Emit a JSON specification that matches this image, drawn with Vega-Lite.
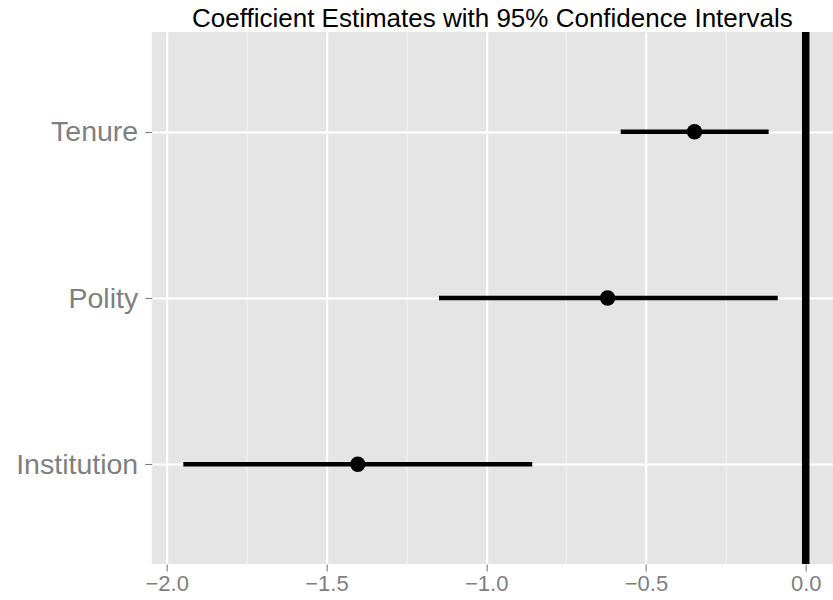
{
  "$schema": "https://vega.github.io/schema/vega-lite/v6.json",
  "autosize": "none",
  "width": 681.3,
  "height": 532,
  "padding": {"left": 151.7, "top": 32, "right": 0, "bottom": 36},
  "background": "white",
  "title": {
    "text": "Coefficient Estimates with 95% Confidence Intervals",
    "font": "Liberation Sans",
    "fontSize": 26,
    "fontWeight": "normal",
    "color": "black",
    "anchor": "middle",
    "offset": -4
  },
  "config": {
    "view": {"fill": "#E5E5E5", "stroke": null},
    "font": "Liberation Sans"
  },
  "datasets": {
    "coef": [
      {"term": "Tenure", "estimate": -0.348, "lower": -0.579, "upper": -0.116},
      {"term": "Polity", "estimate": -0.62, "lower": -1.148, "upper": -0.0875},
      {"term": "Institution", "estimate": -1.402, "lower": -1.948, "upper": -0.856}
    ],
    "zero": [{"x": 0}]
  },
  "resolve": {"axis": {"x": "independent"}},
  "layer": [
    {
      "data": {"name": "zero"},
      "mark": {"type": "rule", "color": "black", "strokeWidth": 7.5},
      "encoding": {
        "x": {
          "field": "x",
          "type": "quantitative",
          "scale": {"domain": [-2.047, 0.0854], "nice": false, "zero": false},
          "axis": {
            "orient": "bottom",
            "values": [-1.75, -1.25, -0.75, -0.25],
            "grid": true,
            "gridColor": "#F2F2F2",
            "gridWidth": 1.1,
            "labels": false,
            "ticks": false,
            "domain": false,
            "title": null
          }
        }
      }
    },
    {
      "data": {"name": "coef"},
      "mark": {"type": "rule", "color": "black", "strokeWidth": 4.3},
      "encoding": {
        "x": {
          "field": "lower",
          "type": "quantitative",
          "axis": {
            "orient": "bottom",
            "values": [-2, -1.5, -1, -0.5, 0],
            "format": ".1f",
            "grid": true,
            "gridColor": "white",
            "gridWidth": 2,
            "domain": false,
            "ticks": true,
            "tickColor": "#7F7F7F",
            "tickSize": 7,
            "tickWidth": 1.1,
            "labelFont": "Liberation Sans",
            "labelFontSize": 22,
            "labelColor": "#7F7F7F",
            "labelPadding": 2,
            "title": null
          }
        },
        "x2": {"field": "upper"},
        "y": {
          "field": "term",
          "type": "nominal",
          "sort": ["Tenure", "Polity", "Institution"],
          "scale": {"type": "point", "padding": 0.6},
          "axis": {
            "grid": true,
            "gridColor": "white",
            "gridWidth": 2,
            "domain": false,
            "ticks": true,
            "tickColor": "#7F7F7F",
            "tickSize": 7,
            "tickWidth": 1.1,
            "labelFont": "Liberation Sans",
            "labelFontSize": 28.5,
            "labelColor": "#7F7F7F",
            "labelPadding": 7,
            "title": null
          }
        }
      }
    },
    {
      "data": {"name": "coef"},
      "mark": {"type": "point", "shape": "circle", "filled": true, "color": "black", "opacity": 1, "size": 236},
      "encoding": {
        "x": {"field": "estimate", "type": "quantitative", "axis": null},
        "y": {"field": "term", "type": "nominal", "sort": ["Tenure", "Polity", "Institution"]}
      }
    }
  ]
}
